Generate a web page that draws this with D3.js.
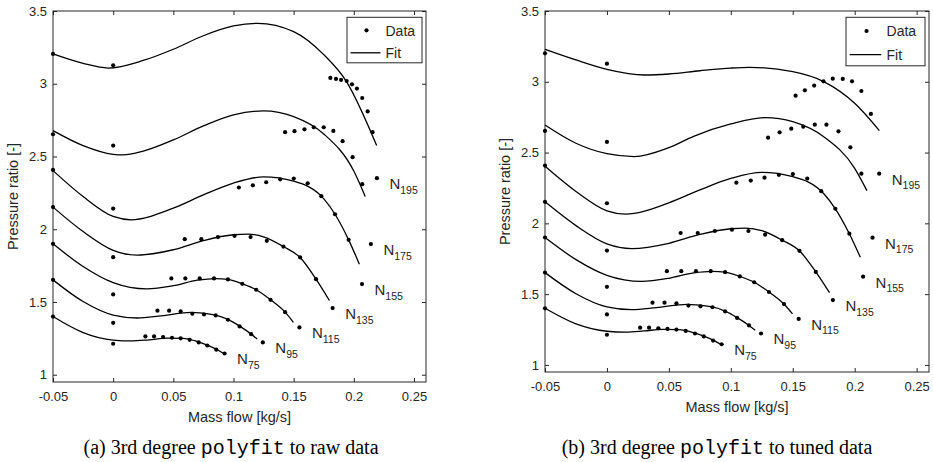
<!DOCTYPE html>
<meta charset="utf-8">
<head>
<title>Pressure ratio polyfit</title>
<script src="https://cdnjs.cloudflare.com/ajax/libs/d3/7.8.5/d3.min.js"></script>
<style>
body { margin: 0; background: #fff; }
svg text { font-family: "Liberation Sans", Arial, Helvetica, sans-serif; fill: #262626; }
svg text.caption { font-family: "Liberation Serif", "Times New Roman", serif; font-size: 20px; fill: #000; }
svg tspan.mono { font-family: "Liberation Mono", "DejaVu Sans Mono", monospace; }
</style>
</head>
<body>
<script>

// ticks
var xTicks = [-0.05, 0, 0.05, 0.1, 0.15, 0.2, 0.25]
var yTicks = [1, 1.5, 2, 2.5, 3, 3.5]
var speeds = ["75", "95", "115", "135", "155", "175", "195"]

// measured points, one row per speed line (N75 ... N195)
var flowRaw = [
    [-0.05, 0, 0.0268, 0.034, 0.0415, 0.0489, 0.0561, 0.0636, 0.0711, 0.0782, 0.0857, 0.0926],
    [-0.05, 0, 0.0368, 0.0465, 0.0561, 0.0658, 0.0755, 0.0852, 0.0954, 0.1051, 0.1147, 0.1244],
    [-0.05, 0, 0.0484, 0.06, 0.0719, 0.0838, 0.0954, 0.1073, 0.1189, 0.1308, 0.1429, 0.1548],
    [-0.05, 0, 0.0595, 0.0733, 0.0871, 0.1009, 0.1142, 0.1277, 0.1415, 0.1554, 0.1686, 0.1824],
    [-0.05, 0, 0.1045, 0.1161, 0.1272, 0.1388, 0.1501, 0.1617, 0.173, 0.1844, 0.1957, 0.2068],
    [-0.05, 0, 0.1429, 0.1507, 0.159, 0.1667, 0.175, 0.183, 0.1907, 0.199, 0.207, 0.2142],
    [-0.05, 0, 0.1805, 0.1852, 0.1894, 0.1941, 0.1985, 0.2026, 0.207, 0.2115, 0.2156, 0.2192]
]
var prRaw = [
    [1.40, 1.213, 1.263, 1.263, 1.259, 1.254, 1.25, 1.24, 1.222, 1.201, 1.172, 1.146],
    [1.652, 1.357, 1.44, 1.44, 1.435, 1.419, 1.414, 1.4075, 1.378, 1.332, 1.279, 1.222],
    [1.90, 1.552, 1.662, 1.662, 1.662, 1.662, 1.655, 1.625, 1.584, 1.515, 1.43, 1.325],
    [2.152, 1.808, 1.932, 1.932, 1.946, 1.955, 1.946, 1.92, 1.881, 1.806, 1.657, 1.458],
    [2.408, 2.142, 2.287, 2.302, 2.323, 2.343, 2.348, 2.316, 2.227, 2.103, 1.927, 1.623],
    [2.653, 2.575, 2.667, 2.674, 2.687, 2.701, 2.701, 2.676, 2.605, 2.495, 2.31, 1.898],
    [3.205, 3.127, 3.04, 3.033, 3.026, 3.019, 2.996, 2.967, 2.902, 2.81, 2.667, 2.351]
]
// tuned points for N175 and N195 (the others are unchanged)
var flowTuned175 = [-0.05, 0, 0.1301, 0.1394, 0.1488, 0.1585, 0.1678, 0.1772, 0.1869, 0.1965, 0.2054, 0.2144]
var prTuned175 = [2.653, 2.575, 2.605, 2.643, 2.669, 2.683, 2.697, 2.697, 2.65, 2.537, 2.351, 1.899]
var flowTuned195 = [-0.05, 0, 0.1523, 0.1598, 0.1673, 0.1748, 0.1823, 0.1904, 0.1979, 0.2054, 0.2131, 0.2198]
var prTuned195 = [3.201, 3.128, 2.902, 2.94, 2.973, 3.003, 3.022, 3.02, 3.003, 2.935, 2.773, 2.351]

// fitted curves
var fitFlowRaw = [
    [-0.05, -0.025, 0, 0.015, 0.03, 0.045, 0.058, 0.07, 0.0782, 0.0857, 0.0912],
    [-0.05, -0.025, 0, 0.02, 0.04, 0.065, 0.0852, 0.0954, 0.1051, 0.1147, 0.1197],
    [-0.05, -0.025, 0, 0.028, 0.05, 0.07, 0.085, 0.0954, 0.1073, 0.1189, 0.1308, 0.1429, 0.1498],
    [-0.05, -0.025, 0, 0.02, 0.05, 0.075, 0.1, 0.112, 0.125, 0.1415, 0.1554, 0.1686, 0.1797],
    [-0.05, -0.025, 0, 0.015, 0.05, 0.075, 0.1, 0.125, 0.15, 0.1753, 0.1844, 0.1957, 0.2046],
    [-0.05, -0.025, 0, 0.008, 0.025, 0.05, 0.075, 0.1, 0.125, 0.15, 0.175, 0.2, 0.2095],
    [-0.05, -0.025, -0.004, 0.025, 0.05, 0.075, 0.1, 0.12, 0.15, 0.175, 0.1935, 0.219]
]
var fitPrRaw = [
    [1.40, 1.29, 1.238, 1.232, 1.24, 1.251, 1.25, 1.228, 1.203, 1.175, 1.149],
    [1.652, 1.503, 1.41, 1.39, 1.405, 1.428, 1.41, 1.38, 1.334, 1.279, 1.245],
    [1.90, 1.744, 1.633, 1.59, 1.612, 1.65, 1.661, 1.655, 1.625, 1.584, 1.515, 1.43, 1.36],
    [2.152, 1.984, 1.855, 1.822, 1.859, 1.922, 1.962, 1.966, 1.948, 1.881, 1.806, 1.657, 1.51],
    [2.403, 2.225, 2.088, 2.065, 2.145, 2.236, 2.317, 2.36, 2.33, 2.207, 2.103, 1.927, 1.76],
    [2.678, 2.575, 2.515, 2.511, 2.537, 2.614, 2.71, 2.786, 2.813, 2.774, 2.655, 2.40, 2.225],
    [3.205, 3.14, 3.108, 3.16, 3.237, 3.33, 3.397, 3.415, 3.358, 3.20, 3.02, 2.575]
]
var fitFlowTuned175 = [-0.05, -0.025, 0, 0.022, 0.05, 0.07, 0.1, 0.128, 0.15, 0.175, 0.2, 0.2099]
var fitPrTuned175 = [2.695, 2.566, 2.492, 2.472, 2.535, 2.615, 2.702, 2.747, 2.718, 2.612, 2.389, 2.231]
var fitFlowTuned195 = [-0.05, -0.025, 0, 0.03, 0.05, 0.075, 0.1, 0.115, 0.15, 0.175, 0.2, 0.2199]
var fitPrTuned195 = [3.229, 3.154, 3.088, 3.048, 3.055, 3.078, 3.097, 3.102, 3.071, 3.001, 2.848, 2.655]

var flowTuned = flowRaw.slice(0, 5).concat([flowTuned175, flowTuned195])
var prTuned = prRaw.slice(0, 5).concat([prTuned175, prTuned195])
var fitFlowTuned = fitFlowRaw.slice(0, 5).concat([fitFlowTuned175, fitFlowTuned195])
var fitPrTuned = fitPrRaw.slice(0, 5).concat([fitPrTuned175, fitPrTuned195])

var svg = d3.select("body").append("svg").attr("width", 933).attr("height", 462)

var panels = [
    {left: 53, top: 11, w: 373, h: 371, flow: flowRaw, pr: prRaw, fitFlow: fitFlowRaw, fitPr: fitPrRaw,
     cap: ["(a) 3rd degree ", "polyfit", " to raw data"], capX: 231, legW: 75, legH: 45.5},
    {left: 545, top: 11, w: 384, h: 361, flow: flowTuned, pr: prTuned, fitFlow: fitFlowTuned, fitPr: fitPrTuned,
     cap: ["(b) 3rd degree ", "polyfit", " to tuned data"], capX: 717, legW: 79, legH: 48.5}
]

panels.forEach(drawPanel)

function drawPanel(p) {
    var x = d3.scaleLinear().domain([-0.05, 0.26]).range([0, p.w])
    var y = d3.scaleLinear().domain([0.95, 3.5]).range([p.h, 0])
    var g = svg.append("g").attr("transform", "translate(" + p.left + "," + p.top + ")")

    // axes, ticks pointing inwards on all four sides
    var ax = [
        [d3.axisBottom(x).tickFormat(String), "translate(0," + p.h + ")"],
        [d3.axisTop(x).tickFormat(""), null],
        [d3.axisLeft(y).tickFormat(String), null],
        [d3.axisRight(y).tickFormat(""), "translate(" + p.w + ",0)"]
    ]
    ax.forEach(function (a, i) {
        var axis = a[0].tickSizeInner(-4).tickSizeOuter(0)
        axis.tickValues(i < 2 ? xTicks : yTicks).tickPadding(i == 0 ? 10 : 6)
        var ag = g.append("g").attr("transform", a[1]).call(axis)
        ag.select(".domain").remove()
        ag.selectAll("line").attr("stroke", "#262626")
        ag.selectAll("text").style("font-size", "13px").attr("fill", "#262626")
            .style("font-family", '"Liberation Sans", Arial, sans-serif')
    })

    g.append("rect").attr("width", p.w).attr("height", p.h)
        .attr("fill", "none").attr("stroke", "#262626").attr("stroke-width", 1)

    var line = d3.line().x(function (d) { return x(d[0]) }).y(function (d) { return y(d[1]) })
        .curve(d3.curveMonotoneX)

    for (var s = 0; s < speeds.length; s++) {
        var fit = d3.zip(p.fitFlow[s], p.fitPr[s])
        g.append("path").attr("d", line(fit)).attr("fill", "none")
            .attr("stroke", "#000").attr("stroke-width", 1.3)

        var pts = d3.zip(p.flow[s], p.pr[s])
        g.append("g").selectAll("circle").data(pts).enter().append("circle")
            .attr("cx", function (d) { return x(d[0]) })
            .attr("cy", function (d) { return y(d[1]) })
            .attr("r", 2.1).attr("fill", "#000")

        var last = pts[pts.length - 1]
        var lab = g.append("text")
            .attr("x", x(last[0]) + 12.5).attr("y", y(last[1]) + 11)
            .style("font-size", "15px")
        lab.append("tspan").text("N")
        lab.append("tspan").attr("dy", 4.5).style("font-size", "10.5px").text(speeds[s])
    }

    // legend
    var lg = g.append("g").attr("transform", "translate(" + (p.w - 4 - p.legW) + ",6.3)")
    lg.append("rect").attr("width", p.legW).attr("height", p.legH)
        .attr("fill", "#fff").attr("stroke", "#262626").attr("stroke-width", 1)
    var k = p.legW / 75
    lg.append("circle").attr("cx", 19.5 * k).attr("cy", 13 * k).attr("r", 2.1).attr("fill", "#000")
    lg.append("text").attr("x", 38.5 * k).attr("y", 13 * k + 5.3).style("font-size", "14px").text("Data")
    lg.append("line").attr("x1", 3.5 * k).attr("x2", 33.5 * k).attr("y1", 35.5 * k).attr("y2", 35.5 * k)
        .attr("stroke", "#000").attr("stroke-width", 1.3)
    lg.append("text").attr("x", 38.5 * k).attr("y", 35.5 * k + 5.3).style("font-size", "14px").text("Fit")

    // axis titles
    g.append("text").attr("x", p.w / 2).attr("y", p.h + 40).attr("text-anchor", "middle")
        .style("font-size", "14.5px").text("Mass flow [kg/s]")
    g.append("text").attr("transform", "rotate(-90)").attr("x", -p.h / 2).attr("y", -35)
        .attr("text-anchor", "middle").style("font-size", "14.5px").text("Pressure ratio [-]")

    // caption
    var c = svg.append("text").attr("class", "caption").attr("x", p.capX).attr("y", 454)
        .attr("text-anchor", "middle")
    c.append("tspan").text(p.cap[0])
    c.append("tspan").attr("class", "mono").text(p.cap[1])
    c.append("tspan").text(p.cap[2])
}

</script>
</body>
</html>
